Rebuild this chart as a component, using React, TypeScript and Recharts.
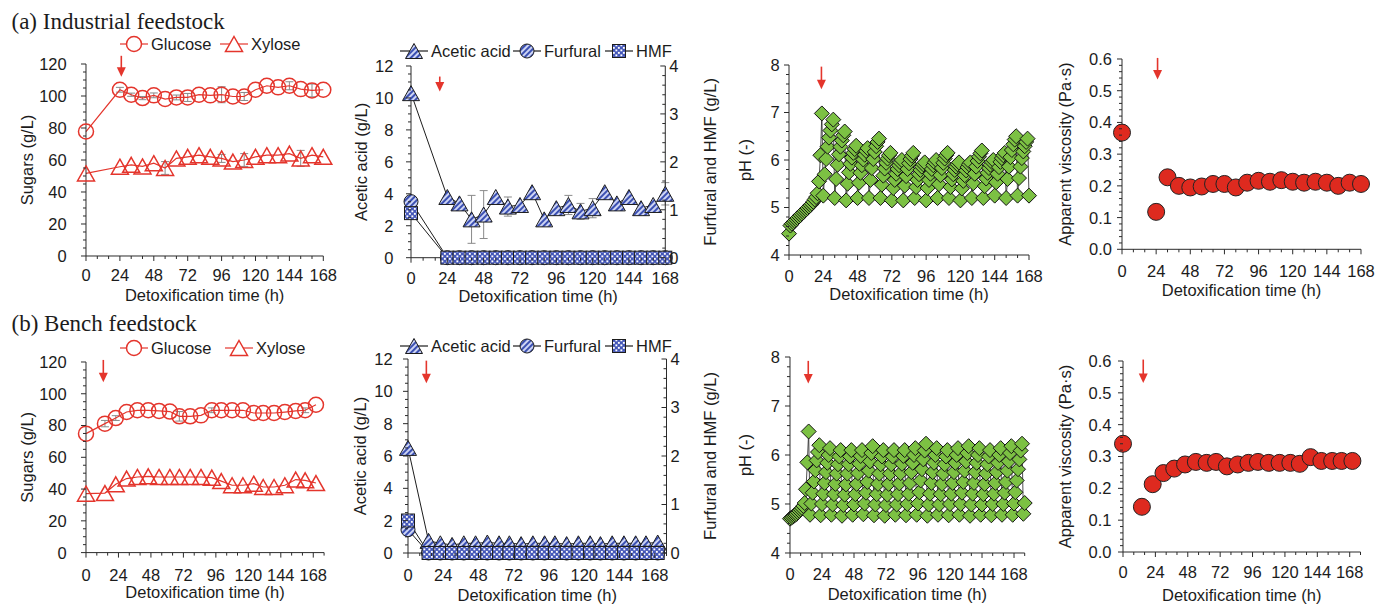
import React from 'react';
import { ComposedChart, Line, Scatter, XAxis, YAxis, ErrorBar, ReferenceDot, Legend } from 'recharts';

const SANS = '"Liberation Sans", Arial, Helvetica, sans-serif';
const SERIF = '"Liberation Serif", "Times New Roman", serif';
const RED = '#e4352c';
const INK = '#1c1c1c';
const AXIS = '#2a2a2a';
const GREY = '#8a8a8a';
const GREEN = '#7cc143';
const VISC_RED = '#de2a1f';
const FS = 16.5;

// ---------- (a) Industrial feedstock ----------
const TIME_A = [0, 24, 32, 40, 48, 56, 64, 72, 80, 88, 96, 104, 112, 120, 128, 136, 144, 152, 160, 168];
const GLUCOSE_A = [77.8, 103.9, 100.8, 98.7, 100.4, 98.1, 99.1, 99.1, 100.8, 100.4, 100.8, 99.7, 99.7, 103.9, 106.4, 105.4, 106.4, 104.3, 103.5, 103.9];
const GLUCOSE_A_SD = [0, 1.5, 1, 1, 1.5, 0, 1.5, 2.5, 0, 0, 5, 0, 2.5, 0, 0, 0, 2.5, 0, 4, 0];
const XYLOSE_A = [51.6, 55.8, 57, 56, 58, 55, 61, 62, 63, 62, 61, 59, 60, 62, 63, 63, 64, 61, 63, 62];
const XYLOSE_A_SD = [0, 0, 0, 0, 0, 4, 0, 0, 0, 0, 2.5, 0, 4, 0, 0, 0, 0, 5, 0, 0];
const ACETIC_A = [10.3, 3.8, 3.4, 2.4, 2.7, 3.8, 3.2, 3.3, 4.1, 2.4, 3.1, 3.3, 2.9, 3.1, 4.1, 3.4, 3.8, 3.1, 3.3, 4.0];
const ACETIC_A_SD = [0, 0, 0, 1.5, 1.5, 0, 0.6, 0, 0, 0, 0, 0.6, 0.5, 0.6, 0, 0, 0, 0, 0, 0.7];
const FURFURAL_A = [1.17, 0, 0, 0, 0, 0, 0, 0, 0, 0, 0, 0, 0, 0, 0, 0, 0, 0, 0, 0];
const HMF_A = [0.93, 0, 0, 0, 0, 0, 0, 0, 0, 0, 0, 0, 0, 0, 0, 0, 0, 0, 0, 0];
const VISCOSITY_A = [0.368, 0.118, 0.227, 0.2, 0.195, 0.198, 0.206, 0.206, 0.195, 0.21, 0.216, 0.213, 0.218, 0.213, 0.21, 0.213, 0.21, 0.2, 0.21, 0.206];
// pH logged hourly, 0-168 h (feed every 8 h from 24 h)
const PH_A = [
  4.45, 4.62, 4.66, 4.69, 4.72, 4.75, 4.78, 4.81, 4.84, 4.87, 4.90, 4.93,
  4.96, 4.99, 5.02, 5.05, 5.08, 5.12, 5.17, 5.22, 5.30, 5.55, 6.10, 6.98,
  5.25, 5.70, 6.02, 6.28, 6.47, 6.62, 6.75, 6.85,
  5.20, 5.60, 5.90, 6.12, 6.28, 6.41, 6.52, 6.60,
  5.15, 5.50, 5.74, 5.92, 6.05, 6.15, 6.23, 6.30,
  5.20, 5.52, 5.73, 5.89, 6.01, 6.11, 6.19, 6.25,
  5.20, 5.58, 5.83, 6.02, 6.17, 6.29, 6.38, 6.45,
  5.20, 5.48, 5.67, 5.82, 5.94, 6.03, 6.10, 6.15,
  5.15, 5.41, 5.58, 5.71, 5.81, 5.89, 5.95, 6.00,
  5.15, 5.46, 5.66, 5.81, 5.93, 6.02, 6.09, 6.15,
  5.20, 5.43, 5.58, 5.70, 5.79, 5.86, 5.91, 5.95,
  5.15, 5.41, 5.58, 5.71, 5.81, 5.89, 5.95, 6.00,
  5.20, 5.49, 5.68, 5.83, 5.94, 6.03, 6.10, 6.15,
  5.20, 5.43, 5.59, 5.70, 5.79, 5.86, 5.91, 5.95,
  5.15, 5.40, 5.56, 5.68, 5.78, 5.85, 5.91, 5.95,
  5.20, 5.51, 5.71, 5.86, 5.98, 6.07, 6.14, 6.20,
  5.20, 5.45, 5.61, 5.73, 5.83, 5.90, 5.96, 6.00,
  5.25, 5.53, 5.71, 5.85, 5.96, 6.04, 6.10, 6.15,
  5.20, 5.60, 5.86, 6.06, 6.21, 6.33, 6.43, 6.50,
  5.25, 5.62, 5.86, 6.04, 6.18, 6.29, 6.38, 6.45,
  5.25,
];

// ---------- (b) Bench feedstock ----------
const TIME_B = [0, 14, 22, 30, 38, 46, 54, 62, 69, 77, 85, 93, 100, 108, 116, 124, 131, 139, 147, 155, 162, 170];
const GLUCOSE_B = [74.9, 81.2, 84.7, 88.5, 89.6, 89.6, 89.2, 88.8, 85.8, 85.8, 86.4, 89.6, 89.6, 89.6, 89.6, 87.9, 87.9, 87.9, 88.5, 89.2, 89.6, 93.1];
const GLUCOSE_B_SD = [0, 2, 1.5, 0, 0, 0, 0, 0, 3, 0, 0, 1.5, 0, 0, 0, 0, 0, 0, 0, 0, 1.5, 0];
const XYLOSE_B = [37.1, 37.5, 43, 46.6, 47.6, 48, 47.6, 47.6, 47.6, 47.6, 47.6, 47.2, 45, 42.4, 42.4, 43.4, 41.3, 41.3, 42.4, 46, 45.5, 43.8];
const ACETIC_B = [6.5, 0.75, 0.6, 0.5, 0.6, 0.6, 0.65, 0.6, 0.6, 0.55, 0.6, 0.6, 0.6, 0.55, 0.6, 0.6, 0.55, 0.6, 0.6, 0.6, 0.6, 0.65];
const FURFURAL_B = [0.48, 0, 0, 0, 0, 0, 0, 0, 0, 0, 0, 0, 0, 0, 0, 0, 0, 0, 0, 0, 0, 0];
const HMF_B = [0.67, 0, 0, 0, 0, 0, 0, 0, 0, 0, 0, 0, 0, 0, 0, 0, 0, 0, 0, 0, 0, 0];
const VISCOSITY_B = [0.34, 0.142, 0.213, 0.248, 0.262, 0.275, 0.283, 0.28, 0.283, 0.269, 0.275, 0.28, 0.283, 0.28, 0.28, 0.28, 0.277, 0.298, 0.286, 0.286, 0.286, 0.286];
// pH logged hourly, 0-176 h (feed every 8 h from 15 h)
const PH_B = [
  4.70, 4.72, 4.74, 4.76, 4.78, 4.80, 4.83, 4.86, 4.89, 4.92, 4.96, 5.02, 5.30, 5.85, 6.48,
  4.78, 5.01, 5.23, 5.46, 5.69, 5.89, 6.06, 6.20,
  4.77, 5.00, 5.21, 5.43, 5.65, 5.84, 6.00, 6.14,
  4.78, 4.99, 5.20, 5.41, 5.62, 5.81, 5.97, 6.10,
  4.76, 4.98, 5.19, 5.40, 5.62, 5.81, 5.97, 6.10,
  4.78, 4.99, 5.20, 5.41, 5.63, 5.82, 5.98, 6.10,
  4.79, 5.01, 5.23, 5.45, 5.68, 5.87, 6.04, 6.18,
  4.77, 4.99, 5.20, 5.41, 5.62, 5.81, 5.97, 6.10,
  4.76, 4.98, 5.19, 5.41, 5.62, 5.81, 5.97, 6.10,
  4.78, 4.99, 5.20, 5.42, 5.63, 5.82, 5.98, 6.10,
  4.77, 5.00, 5.21, 5.43, 5.65, 5.84, 6.00, 6.14,
  4.78, 5.01, 5.24, 5.48, 5.71, 5.91, 6.09, 6.23,
  4.76, 4.99, 5.21, 5.43, 5.65, 5.84, 6.00, 6.14,
  4.78, 4.99, 5.20, 5.41, 5.62, 5.81, 5.97, 6.10,
  4.77, 5.00, 5.21, 5.43, 5.65, 5.84, 6.00, 6.14,
  4.78, 5.00, 5.23, 5.45, 5.68, 5.87, 6.04, 6.18,
  4.76, 4.99, 5.21, 5.43, 5.65, 5.84, 6.00, 6.14,
  4.78, 4.99, 5.20, 5.41, 5.62, 5.81, 5.97, 6.10,
  4.77, 5.00, 5.21, 5.43, 5.65, 5.84, 6.00, 6.14,
  4.78, 5.00, 5.23, 5.45, 5.68, 5.87, 6.04, 6.18,
  4.78, 5.01, 5.24, 5.48, 5.71, 5.91, 6.09, 6.23,
  4.80, 5.02,
];

// ---------- axis labels ----------
const X_MAJOR = [0, 24, 48, 72, 96, 120, 144, 168];
const SUGAR_TICKS = [0, 20, 40, 60, 80, 100, 120];
const ACETIC_TICKS = [0, 2, 4, 6, 8, 10, 12];
const FH_TICKS = [0, 1, 2, 3, 4];
const PH_TICKS = [4, 5, 6, 7, 8];
const VISC_TICKS = [0, 0.1, 0.2, 0.3, 0.4, 0.5, 0.6];
const X_TITLE = 'Detoxification time (h)';

// ---------- layout ----------
const YW = 80;
const TOP = 36;
const XH = 60;
const RM = 20;
const RW = 60;

type Box = { l: number; t: number; r: number; b: number };
type Geo = {
  box: Box;
  xMax: number;
  xTickDy: number;
  xTitleOff: number;
  yTitleOff: number;
  yGap: number;
  rTitleOff?: number;
  rGap?: number;
  arrow: { t: number; y: number; len: number };
};

const GEO = {
  a1: { box: { l: 86, t: 64, r: 323.3, b: 256 }, xMax: 168, xTickDy: 19, xTitleOff: 15.1, yTitleOff: 21, yGap: 19.3, arrow: { t: 25, y: 112, len: 21 } },
  a2: { box: { l: 410.7, t: 66, r: 665, b: 257.7 }, xMax: 168, xTickDy: 20.6, xTitleOff: 15.8, yTitleOff: 30, yGap: 17.7, rTitleOff: 15, rGap: 4, arrow: { t: 19, y: 10.4, len: 15 } },
  a3: { box: { l: 789.3, t: 65, r: 1029.3, b: 255 }, xMax: 168, xTickDy: 20.7, xTitleOff: 14.9, yTitleOff: 35.7, yGap: 9.3, arrow: { t: 22.7, y: 7.49, len: 22.6 } },
  a4: { box: { l: 1121.7, t: 59, r: 1360.7, b: 249.3 }, xMax: 168, xTickDy: 21.4, xTitleOff: 13.2, yTitleOff: 23.3, yGap: 10, arrow: { t: 25, y: 0.535, len: 21.7 } },
  b1: { box: { l: 86, t: 361.7, r: 324.1, b: 552.3 }, xMax: 176, xTickDy: 22.7, xTitleOff: 14.2, yTitleOff: 21, yGap: 19.3, arrow: { t: 12.8, y: 107.2, len: 22.4 } },
  b2: { box: { l: 408.3, t: 359.3, r: 666.8, b: 553.3 }, xMax: 176, xTickDy: 21.7, xTitleOff: 12.2, yTitleOff: 32.4, yGap: 15.3, rTitleOff: 16.8, rGap: 4, arrow: { t: 12.5, y: 10.5, len: 22.6 } },
  b3: { box: { l: 790, t: 356.7, r: 1024.7, b: 552.7 }, xMax: 176, xTickDy: 20.6, xTitleOff: 12.6, yTitleOff: 35, yGap: 10, arrow: { t: 13.7, y: 7.46, len: 22.6 } },
  b4: { box: { l: 1123.3, t: 360.7, r: 1360.8, b: 551.7 }, xMax: 176, xTickDy: 20, xTitleOff: 11.2, yTitleOff: 21.7, yGap: 11.6, arrow: { t: 15, y: 0.531, len: 23.4 } },
};

const steps = (from: number, to: number, step: number) => {
  const out: number[] = [];
  for (let v = from; v <= to + 1e-9; v += step) out.push(+v.toFixed(4));
  return out;
};
const rows = (t: number[], v: number[], e?: number[]) => t.map((x, i) => ({ t: x, v: v[i], e: e ? e[i] : 0 }));
const hourly = (v: number[]) => v.map((y, i) => ({ t: i, v: y }));
const isMajor = (majors: number[], v: number) => majors.some((m) => Math.abs(m - v) < 1e-6);
const fmt0 = (v: number) => String(Math.round(v));
const fmt1 = (v: number) => v.toFixed(1);

const place = (box: Box, rightW: number) => ({
  left: box.l - YW,
  top: box.t - TOP,
  width: YW + box.r - box.l + (rightW || RM),
  height: TOP + box.b - box.t + XH,
});

// ---------- ticks ----------
const leftTick = (majors: number[], gap: number, fmt: (v: number) => string) => (p: any) => {
  const v = Number(p.payload.value);
  const big = isMajor(majors, v);
  return (
    <g>
      <line x1={p.x - (big ? 5 : 3)} x2={p.x} y1={p.y} y2={p.y} stroke={AXIS} strokeWidth={1} />
      {big && (
        <text x={p.x - gap} y={p.y} dy="0.36em" textAnchor="end" fontSize={FS} fill={INK}>
          {fmt(v)}
        </text>
      )}
    </g>
  );
};

const rightTick = (majors: number[], gap: number, fmt: (v: number) => string) => (p: any) => {
  const v = Number(p.payload.value);
  const big = isMajor(majors, v);
  return (
    <g>
      <line x1={p.x - (big ? 5 : 3)} x2={p.x} y1={p.y} y2={p.y} stroke={AXIS} strokeWidth={1} />
      {big && (
        <text x={p.x + gap} y={p.y} dy="0.36em" textAnchor="start" fontSize={FS} fill={INK}>
          {fmt(v)}
        </text>
      )}
    </g>
  );
};

const bottomTick = (dy: number) => (p: any) => {
  const v = Number(p.payload.value);
  const big = isMajor(X_MAJOR, v);
  return (
    <g>
      <line x1={p.x} x2={p.x} y1={p.y} y2={p.y + (big ? 5 : 3)} stroke={AXIS} strokeWidth={1} />
      {big && (
        <text x={p.x} y={p.y + dy} dy="0.36em" textAnchor="middle" fontSize={FS} fill={INK}>
          {fmt0(v)}
        </text>
      )}
    </g>
  );
};

const yLabel = (value: string, offset: number) => ({
  value,
  angle: -90,
  position: 'insideLeft' as const,
  offset,
  fontSize: FS,
  fill: INK,
  style: { textAnchor: 'middle' },
});

const xAxis = (g: Geo) => (
  <XAxis
    type="number"
    dataKey="t"
    domain={[0, g.xMax]}
    ticks={steps(0, g.xMax, 8)}
    interval={0}
    height={XH}
    tickSize={0}
    tickMargin={0}
    tickLine={false}
    axisLine={{ stroke: AXIS }}
    tick={bottomTick(g.xTickDy)}
    label={{ value: X_TITLE, position: 'insideBottom', offset: g.xTitleOff, fontSize: FS, fill: INK }}
  />
);

// ---------- marks ----------
type Mark = 'circOpen' | 'triOpen' | 'triHatch' | 'circHatch' | 'sqDots';
const tri = (cx: number, cy: number, hw: number, hh: number) =>
  `${cx},${cy - hh} ${cx + hw},${cy + hh} ${cx - hw},${cy + hh}`;

function Glyph({ kind, cx, cy, id, solid }: { kind: Mark; cx: number; cy: number; id: string; solid?: boolean }) {
  switch (kind) {
    case 'circOpen':
      return <circle cx={cx} cy={cy} r={7.5} fill={solid ? '#fff' : 'none'} stroke={RED} strokeWidth={1.5} />;
    case 'triOpen':
      return <polygon points={tri(cx, cy, 8.5, 7.5)} fill={solid ? '#fff' : 'none'} stroke={RED} strokeWidth={1.5} />;
    case 'triHatch':
      return <polygon points={tri(cx, cy, 8.5, 7.5)} fill={`url(#stripe-${id})`} stroke={INK} strokeWidth={1} />;
    case 'circHatch':
      return <circle cx={cx} cy={cy} r={7} fill={`url(#stripe-${id})`} stroke={INK} strokeWidth={1} />;
    default:
      return <rect x={cx - 6.5} y={cy - 6.5} width={13} height={13} fill={`url(#dots-${id})`} stroke={INK} strokeWidth={1} />;
  }
}

const glyphDot = (kind: Mark, id: string) => (p: any) =>
  p.cx == null ? <g key={p.index} /> : <Glyph key={p.index} kind={kind} cx={p.cx} cy={p.cy} id={id} />;

const diamondDot = (p: any) =>
  p.cx == null ? (
    <g key={p.index} />
  ) : (
    <polygon
      key={p.index}
      points={`${p.cx},${p.cy - 7.5} ${p.cx + 7.5},${p.cy} ${p.cx},${p.cy + 7.5} ${p.cx - 7.5},${p.cy}`}
      fill={GREEN}
      stroke="#141414"
      strokeWidth={1}
    />
  );

const viscDot = (p: any) => <circle cx={p.cx} cy={p.cy} r={8.5} fill={VISC_RED} stroke="#222" strokeWidth={1} />;

const arrowShape = (len: number) => (p: any) => {
  const { cx, cy } = p;
  if (cx == null) return <g />;
  return (
    <g>
      <line x1={cx} x2={cx} y1={cy - len} y2={cy - 8} stroke={RED} strokeWidth={1.6} />
      <polygon points={`${cx - 4.5},${cy - 9.5} ${cx + 4.5},${cy - 9.5} ${cx},${cy}`} fill={RED} />
    </g>
  );
};

const Arrow = ({ g, yAxisId }: { g: Geo; yAxisId?: string }) => (
  <ReferenceDot
    x={g.arrow.t}
    y={g.arrow.y}
    r={0}
    yAxisId={yAxisId}
    ifOverflow="visible"
    shape={arrowShape(g.arrow.len)}
  />
);

type LegendItem = { x: number; kind: Mark; line: string; label: string };
function LegendStrip({ items, id }: { items: LegendItem[]; id: string }) {
  return (
    <svg width={300} height={24} style={{ display: 'block', overflow: 'visible' }}>
      {items.map((it) => (
        <g key={it.label}>
          <line x1={it.x} x2={it.x + 28} y1={12} y2={12} stroke={it.line} strokeWidth={1.2} />
          <Glyph kind={it.kind} cx={it.x + 14} cy={12} id={id} solid />
          <text x={it.x + 31} y={12} dy="0.36em" fontSize={FS} fill={INK}>
            {it.label}
          </text>
        </g>
      ))}
    </svg>
  );
}

const legendAt = (pos: { left: number; top: number }, x: number, y: number, items: LegendItem[], id: string) => (
  <Legend
    verticalAlign="middle"
    align="center"
    layout="horizontal"
    wrapperStyle={{ left: x - pos.left, top: y - 12 - pos.top, width: 300, height: 24 }}
    content={() => <LegendStrip items={items} id={id} />}
  />
);

// ---------- panels ----------
function SugarPanel({ g, time, glu, gluSd, xyl, xylSd, legendX, legendY, xylX }: any) {
  const pos = place(g.box, 0);
  const items: LegendItem[] = [
    { x: 0, kind: 'circOpen', line: RED, label: 'Glucose' },
    { x: xylX, kind: 'triOpen', line: RED, label: 'Xylose' },
  ];
  return (
    <div style={{ position: 'absolute', left: pos.left, top: pos.top }}>
      <ComposedChart width={pos.width} height={pos.height} margin={{ top: TOP, right: RM, bottom: 0, left: 0 }}>
        {xAxis(g)}
        <YAxis
          type="number"
          domain={[0, 120]}
          ticks={steps(0, 120, 5)}
          interval={0}
          width={YW}
          tickSize={0}
          tickMargin={0}
          tickLine={false}
          axisLine={{ stroke: AXIS }}
          tick={leftTick(SUGAR_TICKS, g.yGap, fmt0)}
          label={yLabel('Sugars (g/L)', g.yTitleOff)}
        />
        <Line data={rows(time, xyl, xylSd)} dataKey="v" type="linear" stroke={RED} strokeWidth={1.2}
          dot={glyphDot('triOpen', '')} activeDot={false} isAnimationActive={false}>
          <ErrorBar dataKey="e" width={4} stroke={GREY} strokeWidth={1} direction="y" />
        </Line>
        <Line data={rows(time, glu, gluSd)} dataKey="v" type="linear" stroke={RED} strokeWidth={1.2}
          dot={glyphDot('circOpen', '')} activeDot={false} isAnimationActive={false}>
          <ErrorBar dataKey="e" width={4} stroke={GREY} strokeWidth={1} direction="y" />
        </Line>
        <Arrow g={g} />
        {legendAt(pos, legendX, legendY, items, '')}
      </ComposedChart>
    </div>
  );
}

function InhibitorPanel({ g, id, time, ace, aceSd, fur, hmf, legendY }: any) {
  const pos = place(g.box, RW);
  const items: LegendItem[] = [
    { x: 0, kind: 'triHatch', line: INK, label: 'Acetic acid' },
    { x: 113, kind: 'circHatch', line: INK, label: 'Furfural' },
    { x: 205, kind: 'sqDots', line: INK, label: 'HMF' },
  ];
  return (
    <div style={{ position: 'absolute', left: pos.left, top: pos.top }}>
      <ComposedChart width={pos.width} height={pos.height} margin={{ top: TOP, right: 0, bottom: 0, left: 0 }}>
        <defs>
          <pattern id={`stripe-${id}`} patternUnits="userSpaceOnUse" width={4} height={4} patternTransform="rotate(45)">
            <rect width={4} height={4} fill="#cdd4f4" />
            <rect width={2} height={4} fill="#3b50b2" />
          </pattern>
          <pattern id={`dots-${id}`} patternUnits="userSpaceOnUse" width={5} height={5}>
            <rect width={5} height={5} fill="#4356b8" />
            <rect x={0.4} y={0.4} width={1.9} height={1.9} fill="#fff" />
            <rect x={2.9} y={2.9} width={1.9} height={1.9} fill="#fff" />
          </pattern>
        </defs>
        {xAxis(g)}
        <YAxis
          yAxisId="l"
          type="number"
          domain={[0, 12]}
          ticks={steps(0, 12, 0.5)}
          interval={0}
          width={YW}
          tickSize={0}
          tickMargin={0}
          tickLine={false}
          axisLine={{ stroke: AXIS }}
          tick={leftTick(ACETIC_TICKS, g.yGap, fmt0)}
          label={yLabel('Acetic acid (g/L)', g.yTitleOff)}
        />
        <YAxis
          yAxisId="r"
          orientation="right"
          type="number"
          domain={[0, 4]}
          ticks={steps(0, 4, 0.2)}
          interval={0}
          width={RW}
          tickSize={0}
          tickMargin={0}
          tickLine={false}
          axisLine={{ stroke: AXIS }}
          tick={rightTick(FH_TICKS, g.rGap, fmt0)}
          label={{
            value: 'Furfural and HMF (g/L)',
            angle: -90,
            position: 'insideRight',
            offset: g.rTitleOff,
            fontSize: FS,
            fill: INK,
            style: { textAnchor: 'middle' },
          }}
        />
        <Line yAxisId="l" data={rows(time, ace, aceSd)} dataKey="v" type="linear" stroke={INK} strokeWidth={1}
          dot={glyphDot('triHatch', id)} activeDot={false} isAnimationActive={false}>
          <ErrorBar dataKey="e" width={4} stroke={GREY} strokeWidth={1} direction="y" />
        </Line>
        <Line yAxisId="r" data={rows(time, fur)} dataKey="v" type="linear" stroke={INK} strokeWidth={1}
          dot={glyphDot('circHatch', id)} activeDot={false} isAnimationActive={false} />
        <Line yAxisId="r" data={rows(time, hmf)} dataKey="v" type="linear" stroke={INK} strokeWidth={1}
          dot={glyphDot('sqDots', id)} activeDot={false} isAnimationActive={false} />
        <Arrow g={g} yAxisId="l" />
        {legendAt(pos, 400, legendY, items, id)}
      </ComposedChart>
    </div>
  );
}

function PhPanel({ g, ph }: any) {
  const pos = place(g.box, 0);
  return (
    <div style={{ position: 'absolute', left: pos.left, top: pos.top }}>
      <ComposedChart width={pos.width} height={pos.height} margin={{ top: TOP, right: RM, bottom: 0, left: 0 }}>
        {xAxis(g)}
        <YAxis
          type="number"
          domain={[4, 8]}
          ticks={steps(4, 8, 0.2)}
          interval={0}
          width={YW}
          tickSize={0}
          tickMargin={0}
          tickLine={false}
          axisLine={{ stroke: AXIS }}
          tick={leftTick(PH_TICKS, g.yGap, fmt0)}
          label={yLabel('pH (-)', g.yTitleOff)}
        />
        <Line data={hourly(ph)} dataKey="v" type="linear" stroke="#222" strokeWidth={0.8}
          dot={diamondDot} activeDot={false} isAnimationActive={false} />
        <Arrow g={g} />
      </ComposedChart>
    </div>
  );
}

function ViscPanel({ g, time, visc }: any) {
  const pos = place(g.box, 0);
  return (
    <div style={{ position: 'absolute', left: pos.left, top: pos.top }}>
      <ComposedChart width={pos.width} height={pos.height} margin={{ top: TOP, right: RM, bottom: 0, left: 0 }}>
        {xAxis(g)}
        <YAxis
          dataKey="v"
          type="number"
          domain={[0, 0.6]}
          ticks={steps(0, 0.6, 0.02)}
          interval={0}
          width={YW}
          tickSize={0}
          tickMargin={0}
          tickLine={false}
          axisLine={{ stroke: AXIS }}
          tick={leftTick(VISC_TICKS, g.yGap, fmt1)}
          label={yLabel('Apparent viscosity (Pa·s)', g.yTitleOff)}
        />
        <Scatter data={rows(time, visc)} dataKey="v" shape={viscDot} isAnimationActive={false} />
        <Arrow g={g} />
      </ComposedChart>
    </div>
  );
}

export default function App() {
  return (
    <div style={{ position: 'absolute', left: 0, top: 0, width: 1376, height: 604, background: '#fff', fontFamily: SANS, overflow: 'hidden' }}>
      <SugarPanel g={GEO.a1} time={TIME_A} glu={GLUCOSE_A} gluSd={GLUCOSE_A_SD} xyl={XYLOSE_A} xylSd={XYLOSE_A_SD}
        legendX={120} legendY={44} xylX={100} />
      <InhibitorPanel g={GEO.a2} id="a" time={TIME_A} ace={ACETIC_A} aceSd={ACETIC_A_SD} fur={FURFURAL_A} hmf={HMF_A} legendY={50.7} />
      <PhPanel g={GEO.a3} ph={PH_A} />
      <ViscPanel g={GEO.a4} time={TIME_A} visc={VISCOSITY_A} />

      <SugarPanel g={GEO.b1} time={TIME_B} glu={GLUCOSE_B} gluSd={GLUCOSE_B_SD} xyl={XYLOSE_B}
        legendX={120} legendY={348.3} xylX={105} />
      <InhibitorPanel g={GEO.b2} id="b" time={TIME_B} ace={ACETIC_B} fur={FURFURAL_B} hmf={HMF_B} legendY={346} />
      <PhPanel g={GEO.b3} ph={PH_B} />
      <ViscPanel g={GEO.b4} time={TIME_B} visc={VISCOSITY_B} />

      <svg width={1376} height={604} style={{ position: 'absolute', left: 0, top: 0, pointerEvents: 'none' }}>
        <text x={11.5} y={29} fontFamily={SERIF} fontSize={23} fill={INK}>(a) Industrial feedstock</text>
        <text x={11.5} y={330.5} fontFamily={SERIF} fontSize={23} fill={INK}>(b) Bench feedstock</text>
      </svg>
    </div>
  );
}
